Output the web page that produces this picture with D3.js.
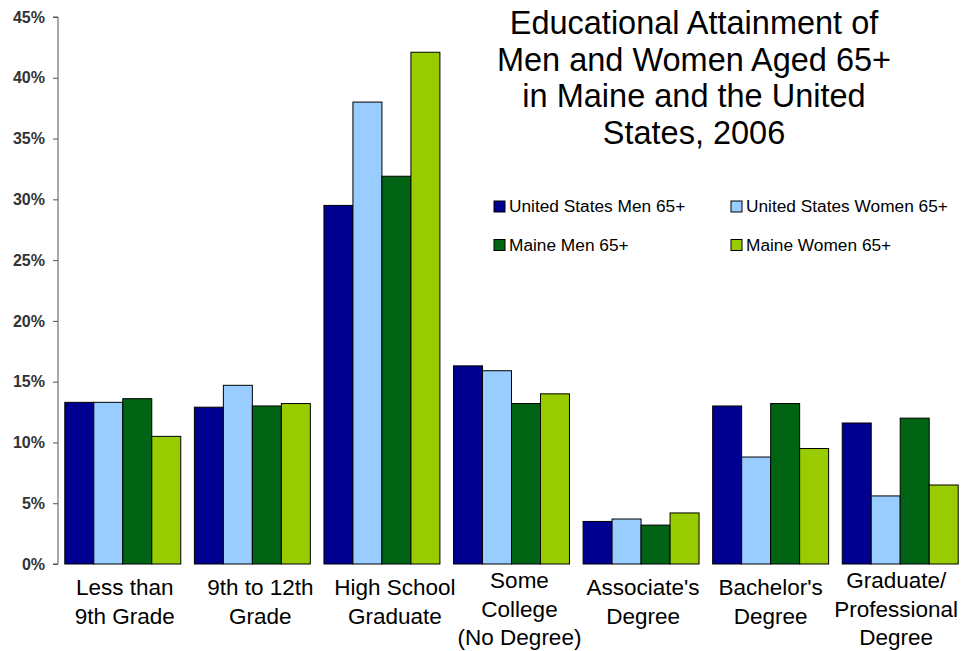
<!DOCTYPE html>
<html>
<head>
<meta charset="utf-8">
<script src="https://cdn.jsdelivr.net/npm/d3@7"></script>
<style>
  html, body { margin: 0; padding: 0; background: #fff; }
  svg { display: block; font-family: "Liberation Sans", Arial, sans-serif; }
</style>
</head>
<body>
<svg id="chart" width="964" height="651"></svg>
<script>
const categories = [
  ["Less than", "9th Grade"],
  ["9th to 12th", "Grade"],
  ["High School", "Graduate"],
  ["Some", "College", "(No Degree)"],
  ["Associate's", "Degree"],
  ["Bachelor's", "Degree"],
  ["Graduate/", "Professional", "Degree"]
];
const seriesNames = ["United States Men 65+", "United States Women 65+", "Maine Men 65+", "Maine Women 65+"];
const usMen     = [13.3, 12.9, 29.5, 16.3, 3.5, 13.0, 11.6];
const usWomen   = [13.3, 14.7, 38.0, 15.9, 3.7, 8.8, 5.6];
const maineMen  = [13.6, 13.0, 31.9, 13.2, 3.2, 13.2, 12.0];
const maineWomen= [10.5, 13.2, 42.1, 14.0, 4.2, 9.5, 6.5];
const yTicks = [0, 5, 10, 15, 20, 25, 30, 35, 40, 45];
const titleLines = ["Educational Attainment of", "Men and Women Aged 65+", "in Maine and the United", "States, 2006"];

const seriesValues = [usMen, usWomen, maineMen, maineWomen];
const colors = ["#000090", "#99CCFF", "#006414", "#99CC00"];

const svg = d3.select("#chart");
const catKeys = categories.map((c, i) => i);

const x0 = d3.scaleBand().domain(catKeys).range([58, 965]).paddingInner(0.105).paddingOuter(0.0525);
const x1 = d3.scaleBand().domain(d3.range(seriesNames.length)).range([0, x0.bandwidth()]);
const y = d3.scaleLinear().domain([0, 45]).range([564, 17]);

// Bars
const groups = svg.append("g").selectAll("g")
  .data(catKeys).join("g")
  .attr("transform", i => `translate(${x0(i)},0)`);
groups.selectAll("rect")
  .data(i => seriesValues.map((s, k) => ({k, v: s[i]})))
  .join("rect")
  .attr("x", d => x1(d.k))
  .attr("y", d => y(d.v))
  .attr("width", x1.bandwidth())
  .attr("height", d => y(0) - y(d.v))
  .attr("fill", d => colors[d.k])
  .attr("stroke", "#000")
  .attr("stroke-width", 1);

// Y axis
const yAxis = svg.append("g")
  .attr("transform", "translate(58,0)")
  .call(d3.axisLeft(y).tickValues(yTicks).tickSize(5).tickPadding(8).tickFormat(d => d + "%"));
yAxis.select(".domain").attr("stroke", "#555").attr("d", `M-5,${y(0)}H0V${y(45)}H-5`);
yAxis.selectAll(".tick line").attr("stroke", "#555");
yAxis.selectAll(".tick text")
  .attr("font-family", "'Liberation Sans', Arial, sans-serif")
  .attr("font-size", 16).attr("font-weight", "bold").attr("fill", "#333");

// X labels (small per-label nudges mimic the original's text layout)
const labelNudge = [2, 8, 13, 8, 2, 0, -4];
const xl = svg.append("g");
categories.forEach((lines, i) => {
  const cx = x0(i) + x0.bandwidth() / 2 + labelNudge[i];
  const start = lines.length === 3 ? 588 : 595;
  const t = xl.append("text")
    .attr("text-anchor", "middle")
    .attr("font-size", 22.5)
    .attr("fill", "#000");
  lines.forEach((ln, j) => {
    t.append("tspan").attr("x", cx).attr("y", start + j * 28.5).text(ln);
  });
});

// Title
const title = svg.append("text").attr("text-anchor", "middle").attr("font-size", 32.5).attr("fill", "#000");
titleLines.forEach((ln, j) => {
  title.append("tspan").attr("x", 694).attr("y", 34 + j * 36.5).text(ln);
});

// Legend
const legendPos = [[494, 201], [731, 201], [494, 239.5], [731, 239.5]];
const legend = svg.append("g");
seriesNames.forEach((name, k) => {
  const [lx, ly] = legendPos[k];
  legend.append("rect").attr("x", lx).attr("y", ly).attr("width", 11).attr("height", 11)
    .attr("fill", colors[k]).attr("stroke", "#000").attr("stroke-width", 1);
  legend.append("text").attr("x", lx + 15).attr("y", ly + 11).attr("font-size", 17.3)
    .attr("fill", "#000").text(name);
});
</script>
</body>
</html>
